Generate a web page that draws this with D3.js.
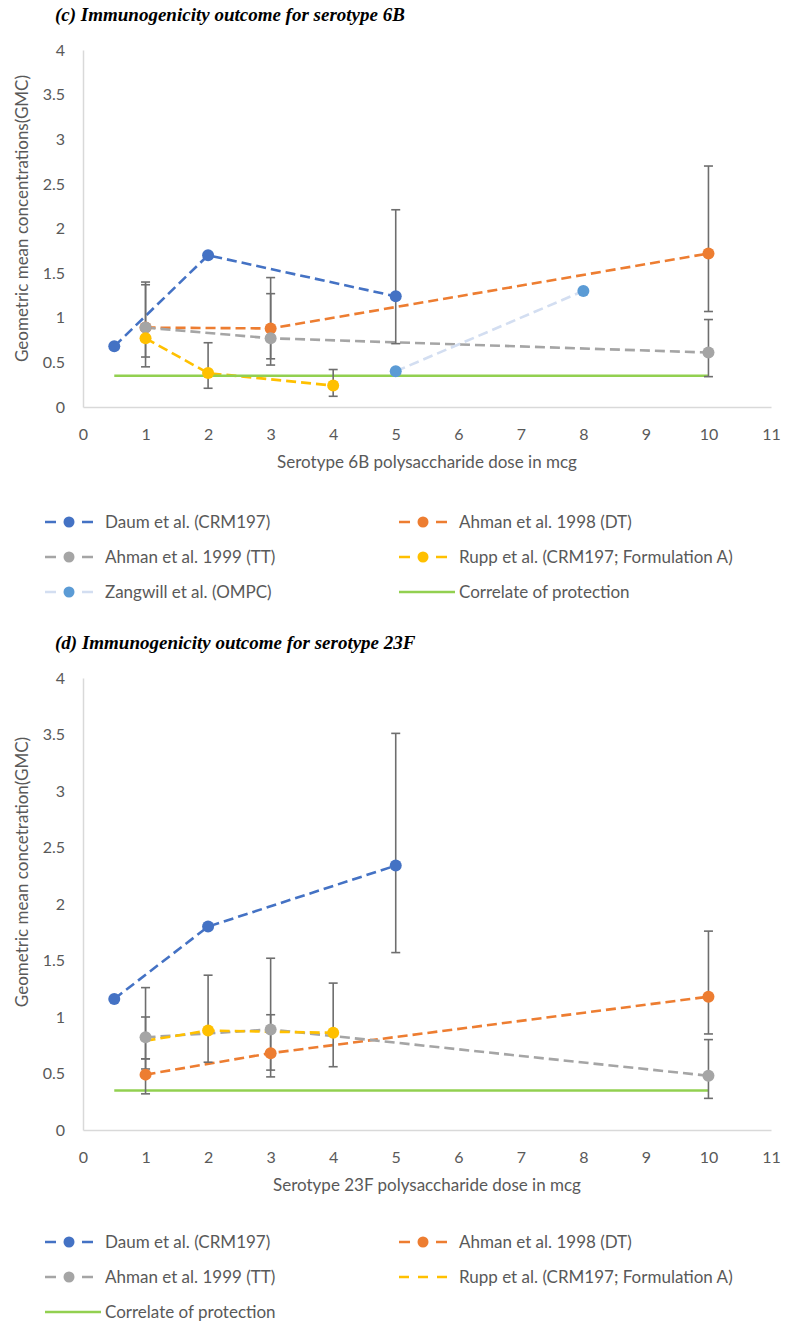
<!DOCTYPE html>
<html>
<head>
<meta charset="utf-8">
<script src="https://cdn.jsdelivr.net/npm/d3@7"></script>
<style>
  body { margin: 0; background: #fff; }
  svg text { font-family: Lato, "Noto Sans", sans-serif; fill: #595959; }
  .title { font-family: "Liberation Serif", "DejaVu Serif", serif; font-weight: bold; font-style: italic; fill: #000; }
</style>
</head>
<body>
<div class="chart"></div>
<script>
// ---- data ----
const xTicks = [0, 1, 2, 3, 4, 5, 6, 7, 8, 9, 10, 11];
const yTicks = [0, 0.5, 1, 1.5, 2, 2.5, 3, 3.5, 4];
const protection = 0.35;

// serotype 6B  (dose, GMC, lower CI, upper CI)
const daum6B = [
  { dose: 0.5, gmc: 0.68 },
  { dose: 2, gmc: 1.70 },
  { dose: 5, gmc: 1.24, lo: 0.71, hi: 2.21 }
];
const ahman98_6B = [
  { dose: 1, gmc: 0.89, lo: 0.56, hi: 1.40 },
  { dose: 3, gmc: 0.88, lo: 0.54, hi: 1.27 },
  { dose: 10, gmc: 1.72, lo: 1.07, hi: 2.70 }
];
const ahman99_6B = [
  { dose: 1, gmc: 0.89, lo: 0.45, hi: 1.37 },
  { dose: 3, gmc: 0.77, lo: 0.47, hi: 1.45 },
  { dose: 10, gmc: 0.61, lo: 0.34, hi: 0.98 }
];
const rupp6B = [
  { dose: 1, gmc: 0.77 },
  { dose: 2, gmc: 0.38, lo: 0.21, hi: 0.72 },
  { dose: 4, gmc: 0.24, lo: 0.12, hi: 0.42 }
];
const zangwill6B = [
  { dose: 5, gmc: 0.40 },
  { dose: 8, gmc: 1.30 }
];

// serotype 23F
const daum23F = [
  { dose: 0.5, gmc: 1.16 },
  { dose: 2, gmc: 1.80 },
  { dose: 5, gmc: 2.34, lo: 1.57, hi: 3.51 }
];
const ahman98_23F = [
  { dose: 1, gmc: 0.49, lo: 0.32, hi: 0.63 },
  { dose: 3, gmc: 0.68, lo: 0.47, hi: 1.02 },
  { dose: 10, gmc: 1.18, lo: 0.85, hi: 1.76 }
];
const ahman99_23F = [
  { dose: 1, gmc: 0.82, lo: 0.63, hi: 1.26 },
  { dose: 3, gmc: 0.89, lo: 0.53, hi: 1.52 },
  { dose: 10, gmc: 0.48, lo: 0.28, hi: 0.80 }
];
const rupp23F = [
  { dose: 1, gmc: 0.79, lo: 0.54, hi: 1.00, hidden: true },
  { dose: 2, gmc: 0.88, lo: 0.60, hi: 1.37 },
  { dose: 3, gmc: 0.87, hidden: true },
  { dose: 4, gmc: 0.86, lo: 0.56, hi: 1.30 }
];

const colors = {
  daum: "#4472C4", ahman98: "#ED7D31", ahman99: "#A5A5A5",
  rupp: "#FFC000", zangwill: "#5B9BD5", zangwillLine: "#D3DEF1", green: "#92D050"
};

const panels = [
  {
    plotTop: 50, plotBottom: 407, yTitleShift: -10,
    title: "(c) Immunogenicity outcome for serotype 6B",
    yTitle: "Geometric mean concentrations(GMC)",
    xTitle: "Serotype 6B polysaccharide dose in mcg",
    series: [
      { name: "Daum et al. (CRM197)", data: daum6B, color: colors.daum },
      { name: "Ahman et al. 1998 (DT)", data: ahman98_6B, color: colors.ahman98 },
      { name: "Ahman et al. 1999 (TT)", data: ahman99_6B, color: colors.ahman99 },
      { name: "Rupp et al. (CRM197; Formulation A)", data: rupp6B, color: colors.rupp },
      { name: "Zangwill et al. (OMPC)", data: zangwill6B, color: colors.zangwill, line: colors.zangwillLine }
    ],
    legendTop: 522
  },
  {
    plotTop: 678, plotBottom: 1130, yTitleShift: -32,
    title: "(d) Immunogenicity outcome for serotype 23F",
    yTitle: "Geometric mean concetration(GMC)",
    xTitle: "Serotype 23F polysaccharide dose in mcg",
    series: [
      { name: "Daum et al. (CRM197)", data: daum23F, color: colors.daum },
      { name: "Ahman et al. 1998 (DT)", data: ahman98_23F, color: colors.ahman98 },
      { name: "Ahman et al. 1999 (TT)", data: ahman99_23F, color: colors.ahman99 },
      { name: "Rupp et al. (CRM197; Formulation A)", data: rupp23F, color: colors.rupp, noLegendMarker: true }
    ],
    legendTop: 1242
  }
];

const width = 787, height = 1323;
const svg = d3.select(".chart").append("svg")
  .attr("width", width)
  .attr("height", height);

const x = d3.scaleLinear().domain([0, 11]).range([83, 771]);

panels.forEach(p => {
  const y = d3.scaleLinear().domain([0, 4]).range([p.plotBottom, p.plotTop]);
  const g = svg.append("g");

  // title
  g.append("text").attr("class", "title")
    .attr("x", 55).attr("y", p.plotTop - 29)
    .attr("font-size", 19)
    .text(p.title);

  // axes
  const yAxis = g.append("g")
    .attr("transform", `translate(${x(0)},0)`)
    .call(d3.axisLeft(y).tickValues(yTicks).tickSize(0).tickPadding(18).tickFormat(d => String(d)));
  const xAxis = g.append("g")
    .attr("transform", `translate(0,${y(0)})`)
    .call(d3.axisBottom(x).tickValues(xTicks).tickSize(0).tickPadding(22).tickFormat(d => String(d)));
  [yAxis, xAxis].forEach(a => {
    a.select(".domain").attr("stroke", "#D9D9D9").attr("stroke-width", 1.5);
    a.selectAll("text").attr("font-size", 16).attr("fill", "#595959")
      .attr("font-family", "Lato, sans-serif");
  });

  g.append("text")
    .attr("transform", `translate(28,${(p.plotTop + p.plotBottom) / 2 + p.yTitleShift}) rotate(-90)`)
    .attr("text-anchor", "middle")
    .attr("font-size", 17)
    .text(p.yTitle);
  g.append("text")
    .attr("x", (x(0) + x(11)) / 2).attr("y", y(0) + 61)
    .attr("text-anchor", "middle")
    .attr("font-size", 17)
    .text(p.xTitle);

  const line = d3.line().x(d => x(d.dose)).y(d => y(d.gmc));

  // dashed series lines
  p.series.forEach(s => {
    g.append("path")
      .datum(s.data)
      .attr("d", line)
      .attr("fill", "none")
      .attr("stroke", s.line || s.color)
      .attr("stroke-width", 2.6)
      .attr("stroke-dasharray", "10,5");
  });

  // correlate of protection
  g.append("path")
    .datum([{ dose: 0.5, gmc: protection }, { dose: 10, gmc: protection }])
    .attr("d", line)
    .attr("stroke", colors.green)
    .attr("stroke-width", 2.6);

  // error bars
  p.series.forEach(s => {
    const eb = s.data.filter(d => d.lo != null);
    const bars = g.append("g").selectAll("g").data(eb).join("g")
      .attr("stroke", "#6E6E6E").attr("stroke-width", 1.6);
    bars.append("line")
      .attr("x1", d => x(d.dose)).attr("x2", d => x(d.dose))
      .attr("y1", d => y(d.lo)).attr("y2", d => y(d.hi));
    bars.append("line")
      .attr("x1", d => x(d.dose) - 4.5).attr("x2", d => x(d.dose) + 4.5)
      .attr("y1", d => y(d.lo)).attr("y2", d => y(d.lo));
    bars.append("line")
      .attr("x1", d => x(d.dose) - 4.5).attr("x2", d => x(d.dose) + 4.5)
      .attr("y1", d => y(d.hi)).attr("y2", d => y(d.hi));
  });

  // markers
  p.series.forEach(s => {
    g.append("g").selectAll("circle")
      .data(s.data.filter(d => !d.hidden))
      .join("circle")
      .attr("cx", d => x(d.dose))
      .attr("cy", d => y(d.gmc))
      .attr("r", 6)
      .attr("fill", s.color);
  });

  // legend
  const items = p.series.map(s => ({ name: s.name, color: s.color, line: s.line || s.color, marker: !s.noLegendMarker }));
  items.push({ name: "Correlate of protection", color: colors.green, solid: true });
  const leg = g.append("g").selectAll("g").data(items).join("g")
    .attr("transform", (d, i) => `translate(${i % 2 === 0 ? 45 : 399},${p.legendTop + Math.floor(i / 2) * 35})`);
  leg.filter(d => d.solid).append("line")
    .attr("x1", 0).attr("x2", 56)
    .attr("stroke", d => d.color).attr("stroke-width", 2.6);
  leg.filter(d => !d.solid).append("line")
    .attr("x1", 0).attr("x2", 48)
    .attr("stroke", d => d.line).attr("stroke-width", 2.6)
    .attr("stroke-dasharray", d => d.marker ? "11,26,11" : "10,9");
  leg.filter(d => !d.solid && d.marker).append("circle")
    .attr("cx", 24).attr("r", 5.5)
    .attr("fill", d => d.color);
  leg.append("text")
    .attr("x", 60).attr("dy", "0.35em")
    .attr("font-size", 17)
    .text(d => d.name);
});
</script>
</body>
</html>
